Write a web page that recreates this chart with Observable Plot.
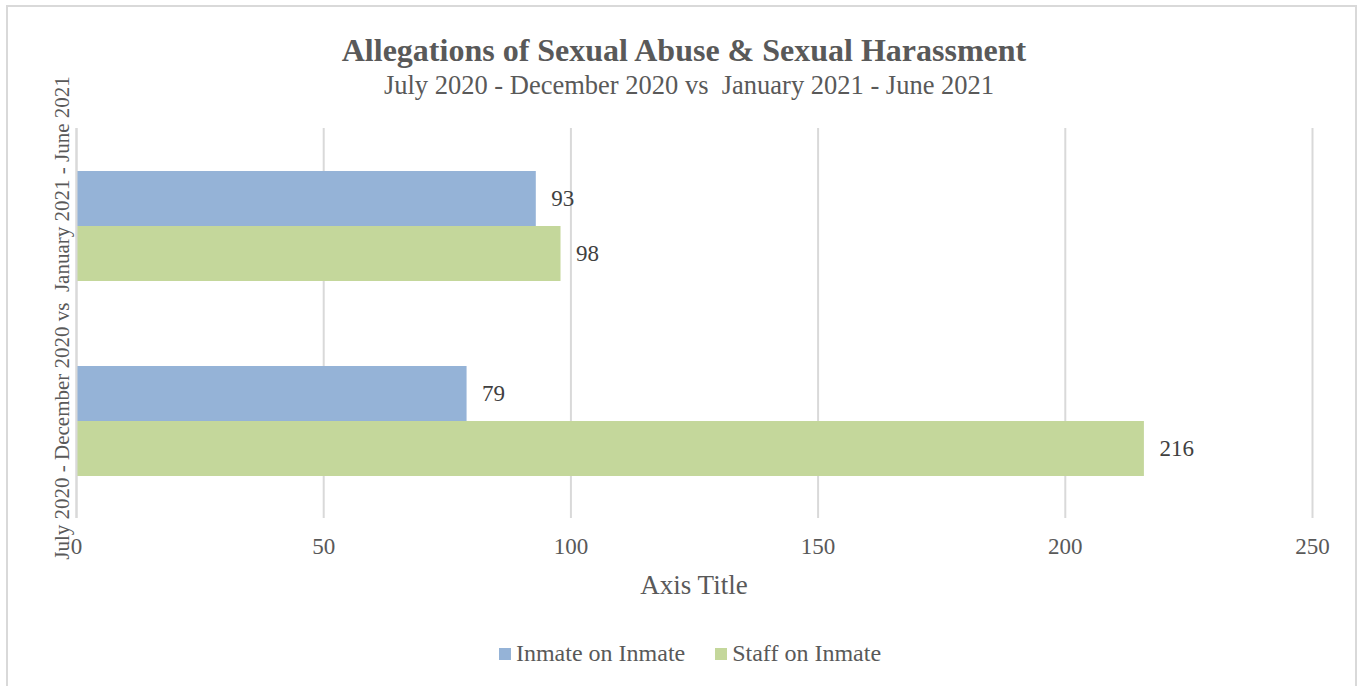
<!DOCTYPE html>
<html>
<head>
<meta charset="utf-8">
<script src="https://cdn.jsdelivr.net/npm/d3@7"></script>
<script src="https://cdn.jsdelivr.net/npm/@observablehq/plot@0.6"></script>
<style>
  html, body { margin: 0; padding: 0; background: #fff; }
  #wrap { position: relative; width: 1360px; height: 686px; overflow: hidden; font-family: "Liberation Serif", "Times New Roman", serif; color: #595959; }
  #frame { position: absolute; left: 6px; top: 5px; width: 1351px; height: 700px; border: 2px solid #d9d9d9; box-sizing: border-box; }
  .abs { position: absolute; white-space: pre; }
  #title { left: 0; width: 1368px; text-align: center; top: 31px; font-size: 32px; line-height: 38px; font-weight: bold; }
  #subtitle { left: 0; width: 1378px; text-align: center; top: 70px; font-size: 26.5px; line-height: 30px; }
  #ytitle { left: 62px; top: 318px; font-size: 21px; transform: translate(-50%, -50%) rotate(-90deg); }
  #xtitle { left: 694px; top: 585px; font-size: 27px; transform: translate(-50%, -50%); }
  #legend { left: 0; width: 1380px; top: 640px; display: flex; justify-content: center; font-size: 24px; }
  .item { display: flex; align-items: center; margin: 0 15px; }
  .sw { width: 12px; height: 12px; margin-right: 5px; }
  #chart { position: absolute; left: 0; top: 0; }
</style>
</head>
<body>
<div id="wrap">
  <div id="frame"></div>
  <div id="chart"></div>
  <div class="abs" id="title">Allegations of Sexual Abuse &amp; Sexual Harassment</div>
  <div class="abs" id="subtitle">July 2020 - December 2020 vs  January 2021 - June 2021</div>
  <div class="abs" id="ytitle">July 2020 - December 2020 vs  January 2021 - June 2021</div>
  <div class="abs" id="xtitle">Axis Title</div>
  <div class="abs" id="legend"></div>
</div>
<script>
const periods = ["January 2021 - June 2021", "July 2020 - December 2020"];
const seriesNames = ["Inmate on Inmate", "Staff on Inmate"];
const seriesColors = ["#95b3d7", "#c4d79b"];
const inmateOnInmate = [93, 79];
const staffOnInmate = [98, 216];
const xTicks = [0, 50, 100, 150, 200, 250];

const data = [];
periods.forEach((p, i) => {
  data.push({period: p, series: seriesNames[0], value: inmateOnInmate[i]});
  data.push({period: p, series: seriesNames[1], value: staffOnInmate[i]});
});

const chart = Plot.plot({
  width: 1360,
  height: 686,
  marginLeft: 76,
  marginRight: 48,
  marginTop: 127,
  marginBottom: 168,
  style: {fontFamily: "Liberation Serif, Times New Roman, serif", background: "transparent", overflow: "visible"},
  x: {domain: [0, 250], ticks: xTicks, label: null},
  y: {domain: seriesNames, paddingInner: 0, paddingOuter: 0.745, axis: null},
  fy: {domain: periods, padding: 0, axis: null},
  color: {domain: seriesNames, range: seriesColors},
  marks: [
    Plot.gridX(xTicks, {stroke: "#d9d9d9", strokeOpacity: 1, strokeWidth: 2}),
    Plot.barX(data, {fy: "period", y: "series", x: "value", fill: "series"}),
    Plot.ruleX([0], {stroke: "#d9d9d9", strokeWidth: 2}),
    Plot.text(data, {fy: "period", y: "series", x: "value", text: d => String(d.value), textAnchor: "start", dx: 15, fontSize: 23, fill: "#404040"}),
    Plot.axisX(xTicks, {tickSize: 0, tickPadding: 19, fontSize: 23, fill: "#595959", label: null, tickFormat: d => String(d)})
  ]
});
document.getElementById("chart").appendChild(chart);

const legend = document.getElementById("legend");
seriesNames.forEach((s, i) => {
  const it = document.createElement("div");
  it.className = "item";
  const sw = document.createElement("div");
  sw.className = "sw";
  sw.style.background = seriesColors[i];
  const t = document.createElement("span");
  t.textContent = s;
  it.appendChild(sw);
  it.appendChild(t);
  legend.appendChild(it);
});
</script>
</body>
</html>
